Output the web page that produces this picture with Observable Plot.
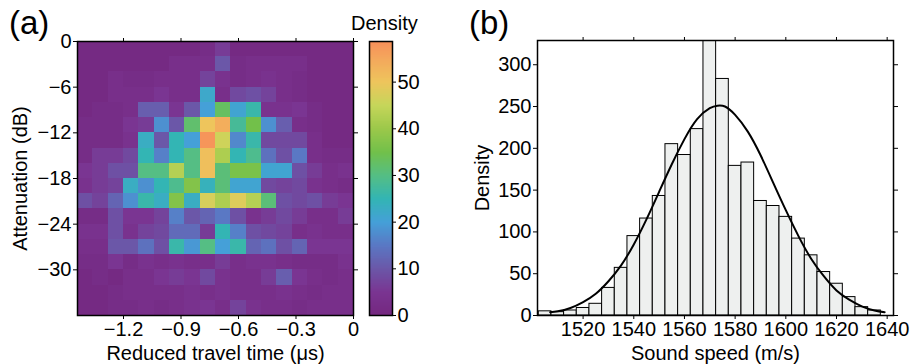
<!DOCTYPE html>
<html><head><meta charset="utf-8">
<script src="https://cdn.jsdelivr.net/npm/d3@7"></script>
<script src="https://cdn.jsdelivr.net/npm/@observablehq/plot@0.6"></script>
<style>
body{margin:0;background:#fff;font-family:"Liberation Sans",Arial,sans-serif;color:#000;}
#wrap{position:relative;width:911px;height:364px;overflow:hidden;background:#fff;}
.abs{position:absolute;top:0;}
.plabel{position:absolute;font-size:33px;line-height:1;}
</style></head><body>
<div id="wrap">
  <div id="pa" class="abs" style="left:0px"></div>
  <div id="cb" class="abs" style="left:360px"></div>
  <div id="pb" class="abs" style="left:460px"></div>
  <div class="plabel" style="left:9px;top:6px">(a)</div>
  <div class="plabel" style="left:469px;top:6px">(b)</div>
  <div style="position:absolute;left:351px;top:13px;font-size:20px;line-height:1">Density</div>
</div>
<script>
// ---------- Panel (a): 2-D density ----------
const timeEdges = [-1.44,-1.36,-1.28,-1.2,-1.12,-1.04,-0.96,-0.88,-0.8,-0.72,-0.64,-0.56,-0.48,-0.4,-0.32,-0.24,-0.16,-0.08,0];
const attenEdges = [0,-2,-4,-6,-8,-10,-12,-14,-16,-18,-20,-22,-24,-26,-28,-30,-32,-34,-36];
// rows from 0 dB (top) downwards, columns from -1.44 us to 0
const density = [
  [1,1,1,1,1,1,1,1,2,6,1,1,1,1,1,1,1,1],
  [1,1,1,1,1,1,3,3,3,10,2,3,3,3,3,1,1,1],
  [1,1,3,2,2,3,3,3,7,4,2,3,4,3,2,1,1,1],
  [1,1,3,3,3,5,3,3,22,3,8,9,7,3,2,1,1,1],
  [1,2,2,3,11,11,5,10,20,33,21,26,4,4,5,2,1,1],
  [2,2,2,5,6,18,10,32,50,54,28,35,18,11,3,2,1,1],
  [2,2,2,4,23,10,25,20,58,46,17,26,8,8,8,3,1,1],
  [2,6,6,8,25,16,25,30,51,42,25,29,14,9,15,3,2,2],
  [5,6,9,9,30,30,43,30,51,31,36,36,21,21,9,6,3,4],
  [4,6,7,23,18,25,29,37,24,31,21,21,8,7,8,4,3,2],
  [9,7,12,18,26,23,37,23,47,42,48,43,31,9,8,9,6,5],
  [2,2,9,5,5,7,16,10,12,15,9,4,6,8,6,3,3,6],
  [4,4,9,4,7,8,13,13,6,25,16,9,8,7,3,4,3,3],
  [3,3,10,10,14,9,26,19,30,20,26,12,14,9,12,5,5,5],
  [2,2,5,2,4,3,4,3,3,6,3,4,4,3,2,2,2,4],
  [1,2,1,3,3,5,6,5,8,4,3,3,6,11,5,3,2,3],
  [1,1,2,3,3,3,3,4,3,4,3,3,3,4,3,2,3,3],
  [1,1,2,2,3,2,3,4,5,3,7,4,3,3,2,3,3,3]
];
const timeTicks = [-1.2,-0.9,-0.6,-0.3,0];
const timeTickLabels = ["−1.2","−0.9","−0.6","−0.3","0"];
const attenTicks = [0,-6,-12,-18,-24,-30];
const colorStops = [0,5,10,15,20,25,30,35,40,45,50,55,58.7];
const colorRamp = ["#74277f","#7a3592","#6b57a8","#5a78c4","#45a0d8","#33b5b4","#55be84","#72c04a","#9cc84a","#c6d65a","#eec55c","#f4a85c","#f7905a"];
const colorTicks = [0,10,20,30,40,50];

// ---------- Panel (b): histogram ----------
const binLeft = [1502.5,1507.5,1512.5,1517.5,1522.5,1527.5,1532.5,1537.5,1542.5,1547.5,1552.5,1557.5,1562.5,1567.5,1572.5,1577.5,1582.5,1587.5,1592.5,1597.5,1602.5,1607.5,1612.5,1617.5,1622.5,1627.5,1632.5];
const binCount = [5,4,6,9,14,33,57,95,116,143,205,192,223,370,283,179,183,137,131,118,92,72,52,38,22,10,6];
const fitX = [1507,1510,1515,1520,1525,1530,1535,1540,1545,1550,1555,1560,1565,1570,1573,1576,1580,1585,1590,1595,1600,1605,1610,1615,1620,1625,1630,1635,1639];
const fitY = [4,5,9,16,26,41,60,85,115,148,181,211,235,248,251,250,240,220,192,159,126,95,68,47,30,19,11,6,4];
const speedTicks = [1520,1540,1560,1580,1600,1620,1640];
const countTicks = [0,50,100,150,200,250,300];

const font = {fontFamily: "'Liberation Sans', Arial, sans-serif", fontSize: "20px", color: "#000", background: "transparent", overflow: "visible"};

const cells = [];
density.forEach((row, i) => row.forEach((v, j) => cells.push({
  x1: timeEdges[j], x2: timeEdges[j + 1], y1: attenEdges[i + 1], y2: attenEdges[i], v
})));

const colorOpts = {type: "linear", domain: colorStops, range: colorRamp, interpolate: "rgb", clamp: true};
const blank = () => "";
const timeFmt = d => timeTickLabels[timeTicks.indexOf(d)];

const pa = Plot.plot({
  width: 460, height: 364,
  marginLeft: 77, marginRight: 107, marginTop: 41, marginBottom: 49,
  style: font,
  x: {domain: [-1.44, 0]},
  y: {domain: [-36, 0]},
  color: colorOpts,
  marks: [
    Plot.rect(cells, {x1: "x1", x2: "x2", y1: "y1", y2: "y2", fill: "v", shapeRendering: "crispEdges"}),
    Plot.frame({stroke: "#000", strokeWidth: 1.5}),
    Plot.axisX({ticks: timeTicks, tickFormat: timeFmt, tickSize: 4, tickPadding: 2, label: "Reduced travel time (μs)", labelAnchor: "center", labelOffset: 44, labelArrow: "none"}),
    Plot.axisX({anchor: "top", ticks: timeTicks, tickSize: 4, tickFormat: blank, label: null}),
    Plot.axisY({ticks: attenTicks, tickSize: 4, tickPadding: 2, label: "Attenuation (dB)", labelAnchor: "center", labelOffset: 65, labelArrow: "none"}),
    Plot.axisY({anchor: "right", ticks: attenTicks, tickSize: 4, tickFormat: blank, label: null})
  ]
});
document.getElementById("pa").appendChild(pa);

const cb = Plot.plot({
  width: 60, height: 364,
  marginLeft: 9, marginRight: 28, marginTop: 41, marginBottom: 49,
  style: font,
  x: {domain: [0, 1], axis: null},
  y: {domain: [0, 58.7]},
  color: colorOpts,
  marks: [
    Plot.raster({x1: 0, x2: 1, y1: 0, y2: 58.7, width: 1, height: 300, fill: (x, y) => y}),
    Plot.frame({stroke: "#000", strokeWidth: 1.5}),
    Plot.axisY({anchor: "right", ticks: colorTicks, tickSize: 3, tickPadding: 2, label: null})
  ]
});
document.getElementById("cb").appendChild(cb);

const bars = binLeft.map((x1, i) => ({x1, x2: x1 + 5, n: binCount[i]}));
const fit = fitX.map((x, i) => ({x, y: fitY[i]}));

const pb = Plot.plot({
  width: 451, height: 364,
  marginLeft: 77, marginRight: 18, marginTop: 40, marginBottom: 49,
  style: font,
  x: {domain: [1502, 1642.5]},
  y: {domain: [0, 329]},
  marks: [
    Plot.rectY(bars, {x1: "x1", x2: "x2", y: "n", fill: "#eef0ef", stroke: "#000", strokeWidth: 1, clip: true}),
    Plot.line(fit, {x: "x", y: "y", stroke: "#000", strokeWidth: 2, curve: "natural"}),
    Plot.frame({stroke: "#000", strokeWidth: 1.5}),
    Plot.axisX({ticks: speedTicks, tickFormat: "d", tickSize: 4, tickPadding: 2, label: "Sound speed (m/s)", labelAnchor: "center", labelOffset: 44, labelArrow: "none"}),
    Plot.axisX({anchor: "top", ticks: speedTicks, tickSize: 4, tickFormat: blank, label: null}),
    Plot.axisY({ticks: countTicks, tickSize: 4, tickPadding: 2, label: "Density", labelAnchor: "center", labelOffset: 63, labelArrow: "none"}),
    Plot.axisY({anchor: "right", ticks: countTicks, tickSize: 4, tickFormat: blank, label: null})
  ]
});
document.getElementById("pb").appendChild(pb);
</script>
</body></html>
